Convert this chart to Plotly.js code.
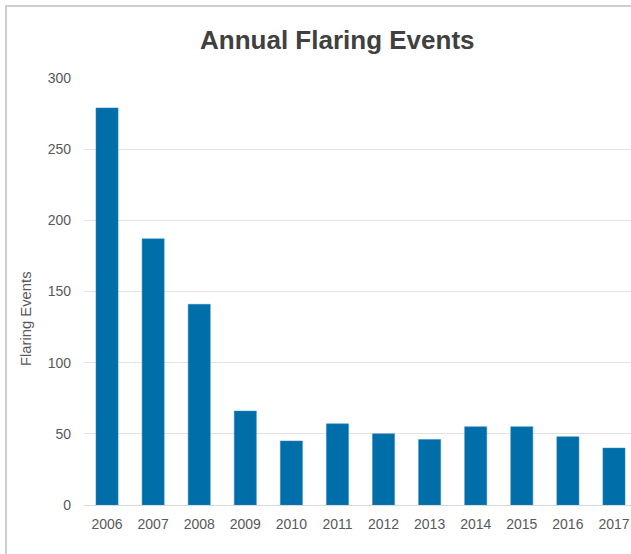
<!DOCTYPE html>
<html><head><meta charset="utf-8">
<script src="https://cdn.plot.ly/plotly-3.0.1.min.js"></script>
<style>html,body{margin:0;padding:0;overflow:hidden;background:#fff;width:631px;height:554px;}
#frame{position:absolute;left:5px;top:5px;width:700px;height:700px;border-left:2px solid #cfcfcf;border-top:2px solid #cfcfcf;pointer-events:none;}
</style></head><body>
<div id="chart"></div>
<div id="frame"></div>
<script>
const years = ['2006','2007','2008','2009','2010','2011','2012','2013','2014','2015','2016','2017'];
const events = [279,187,141,66,45,57,50,46,55,55,48,40];
const yTicks = [0,50,100,150,200,250,300];

Plotly.newPlot('chart', [{
  type: 'bar', x: years, y: events,
  marker: {color: '#006ea9', line: {color: '#2f8bc0', width: 0.5}},
  hoverinfo: 'x+y'
}], {
  width: 640, height: 554,
  margin: {l: 84, r: 3, t: 78, b: 49},
  paper_bgcolor: 'rgba(0,0,0,0)', plot_bgcolor: '#fff',
  font: {family: 'Liberation Sans, Arial, sans-serif', color: '#595959', size: 13},
  title: {text: '<b>Annual Flaring Events</b>', font: {size: 26, color: '#404040'}, xref: 'container', x: 0.527, xanchor: 'center', yref: 'container', y: 0.928, yanchor: 'middle'},
  bargap: 0.52,
  xaxis: {type: 'category', tickfont: {size: 14, color: '#595959'}, ticks: '', ticklabelstandoff: 9, showgrid: false, showline: false, zeroline: false},
  yaxis: {range: [0, 300], tickvals: yTicks, ticktext: yTicks.map(String), tickfont: {size: 14, color: '#595959'},
    gridcolor: '#e3e3e3', gridwidth: 1, zeroline: true, zerolinecolor: '#d9d9d9', zerolinewidth: 1, ticks: '', ticklen: 0, ticklabelstandoff: 12},
  annotations: [{text: 'Flaring Events', xref: 'paper', yref: 'paper', x: -58/553, y: (505-319)/427, xanchor: 'center', yanchor: 'middle', textangle: -90, showarrow: false, font: {size: 14.8, color: '#595959'}}],
  showlegend: false
}, {displayModeBar: false, staticPlot: true});
</script></body></html>
